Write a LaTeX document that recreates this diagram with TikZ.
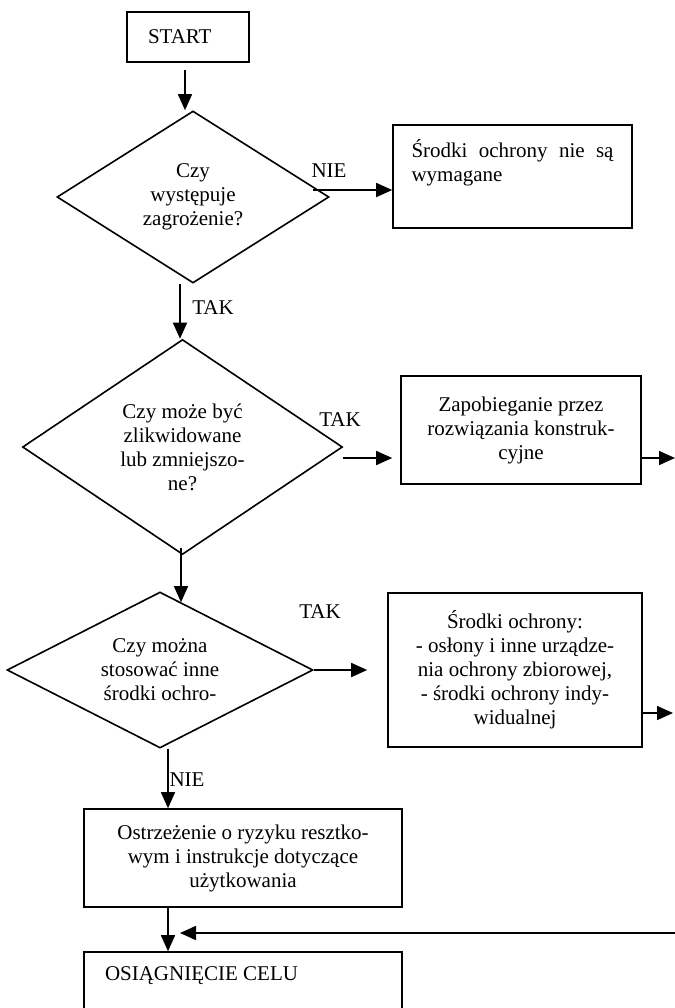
\documentclass[tikz,border=0pt]{standalone}
\usepackage{fontspec}
\setmainfont{Liberation Serif}
\usetikzlibrary{shapes.geometric,arrows.meta,calc}
\begin{document}
\begin{tikzpicture}[x=0.5pt,y=-0.5pt]
    \tikzstyle{every node}+=[font=\fontsize{10.5}{12}\selectfont]
    \tikzstyle{box}=[draw=black, line width=0.8pt, rectangle, align=center, inner sep=0pt]
    \tikzstyle{decision}=[draw=black, line width=0.8pt, diamond, align=center, inner sep=0pt]
    \tikzstyle{arr}=[draw=black, line width=0.8pt, -{Triangle[length=8pt,width=7pt]}]
    \useasboundingbox (0,0) rectangle (675,1008);
    \node [box, text width=40pt, align=left, inner xsep=10.5pt, minimum height=25pt] (start) at (188,37) {START};
    \node [decision, minimum width=136pt, minimum height=86pt, aspect=1.6] (threat) at (193,197) {Czy\\występuje\\zagrożenie?};
    \node [box, inner xsep=9.25pt] (none) at (512.5,176.5) {\parbox[c][51.5pt][t]{101pt}{\makebox[101pt][s]{\rule{0pt}{16pt}Środki ochrony nie są}\\wymagane}};
    \node [decision, minimum width=160pt, minimum height=107.5pt, aspect=1.5] (remove) at (182.5,447) {Czy może być\\zlikwidowane\\lub zmniejszo-\\ne?};
    \node [box, minimum width=120pt, minimum height=54pt] (design) at (521,430) {Zapobieganie przez\\rozwiązania konstruk-\\cyjne};
    \node [decision, minimum width=153pt, minimum height=78pt, aspect=2] (other) at (160,670) {Czy można\\stosować inne\\środki ochro-};
    \node [box, minimum width=127pt, minimum height=77pt] (guards) at (515,670) {Środki ochrony:\\- osłony i inne urządze-\\nia ochrony zbiorowej,\\- środki ochrony indy-\\widualnej};
    \node [box, minimum width=159pt, minimum height=49pt] (warning) at (243,858) {Ostrzeżenie o ryzyku resztko-\\wym i instrukcje dotyczące\\użytkowania};
    \node [box, inner xsep=10.5pt] (goal) at (243,982) {\parbox[c][30pt][t]{138pt}{\rule{0pt}{14pt}OSIĄGNIĘCIE CELU}};
    \node (nie1) at (329,171) {NIE};
    \node (tak1) at (213,308) {TAK};
    \node (tak2) at (340,420) {TAK};
    \node (tak3) at (320,612) {TAK};
    \node (nie2) at (187,780) {NIE};
    \coordinate (out1) at (675,458);
    \coordinate (out2) at (673,713);
    \coordinate (back) at (675,933);
    \coordinate (join) at (180,933);
    \draw [arr] ($(start.south)+(-3,7)$) -- ($(start.south |- threat.north)+(-3,0)$);
    \draw [arr] ($(threat.east)+(-17,-7)$) -- ($(none.west)+(0,13.5)$);
    \draw [arr] ($(threat.south)+(-13,0)$) -- ($(threat.south |- remove.north)+(-13,0)$);
    \draw [arr] ($(remove.east)+(0,11)$) -- ($(design.west)+(-8,28)$);
    \draw [arr] ($(design.east)+(0,28)$) -- (out1);
    \draw [arr] ($(remove.south)+(-1.5,-7)$) -- ($(other.north)+(21,11)$);
    \draw [arr] (other.east) -- ($(guards.west)+(-20,0)$);
    \draw [arr] ($(guards.east)+(0,43)$) -- (out2);
    \draw [arr] ($(other.south)+(8,0)$) -- ($(warning.north)+(-75,0)$);
    \draw [arr] ($(warning.south)+(-75,0)$) -- ($(goal.north)+(-75,0)$);
    \draw [arr] (back) -- (join);
\end{tikzpicture}
\end{document}
